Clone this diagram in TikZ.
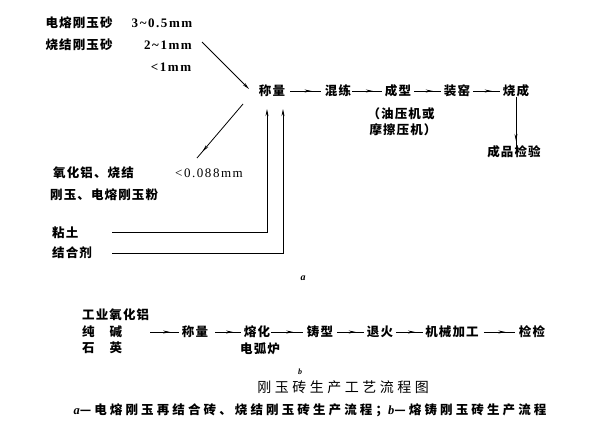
\documentclass[tikz,border=0pt]{standalone}
\usepackage{fontspec}
\usetikzlibrary{arrows.meta,decorations.markings}
\setmainfont{Noto Sans CJK SC}
\newfontfamily\cjkfont{Noto Sans CJK SC}
\newfontfamily\latfont{Liberation Serif}
\begin{document}
\begin{tikzpicture}[x=1pt,y=-1pt,
  every node/.style={inner sep=1pt},
  lbl/.style={font=\fontsize{12.5}{15}\selectfont\cjkfont\bfseries\addfontfeature{LetterSpace=9}},
  num/.style={font=\fontsize{13}{15}\selectfont\latfont\bfseries\addfontfeature{LetterSpace=12}},
  numr/.style={font=\fontsize{13}{15}\selectfont\latfont\addfontfeature{LetterSpace=12}},
  conn/.style={line width=0.8pt},
  flow/.style={conn, postaction={decorate},
    decoration={markings, mark=at position #1 with {\arrow{Stealth[length=7pt,width=3pt]}}}},
  flow/.default=0.7,
  endarrow/.style={conn, -{Stealth[length=7pt,width=3pt]}},
  revflow/.style={conn, postaction={decorate},
    decoration={markings, mark=at position #1 with {\arrowreversed{Stealth[length=7pt,width=3pt]}}}},
]
\useasboundingbox (0,0) rectangle (609,434);

% ---------- part a ----------
\node[lbl] (m1) at (79,23) {电熔刚玉砂};
\node[num] (s1) at (162,23) {3\textasciitilde0.5mm};
\node[lbl] (m2) at (79,45) {烧结刚玉砂};
\node[num] (s2) at (168,45) {2\textasciitilde1mm};
\node[num] (s3) at (171,67) {<1mm};

\node[lbl] (weigh) at (272,91) {称量};
\node[lbl] (mix)   at (338,91) {混练};
\node[lbl] (form)  at (398,91) {成型};
\node[lbl,align=center] (press) at (401,122) {（油压机或\\[1pt]\ 摩擦压机）};
\node[lbl] (kiln)  at (457,91) {装窑};
\node[lbl] (fire)  at (516,91) {烧成};
\node[lbl] (insp)  at (514,152) {成品检验};

\node[lbl,anchor=west] (f1) at (52,173) {氧化铝、烧结};
\node[lbl,anchor=west] (f2) at (49,195) {刚玉、电熔刚玉粉};
\node[numr] (s4) at (209,173) {<0.088mm};
\node[lbl,anchor=west] (clay) at (51,233) {粘土};
\node[lbl,anchor=west] (binder) at (51,253) {结合剂};
\node[font=\fontsize{10}{12}\selectfont\latfont\bfseries\itshape] (la) at (303,278) {a};

\coordinate (d1a) at (202,42);
\coordinate (d1b) at (249,89);
\coordinate (d2a) at (197,158);
\coordinate (d2b) at (243,104);
\coordinate (cl0) at (112,232);
\coordinate (cl1) at (267,109);
\coordinate (bd0) at (112,253);
\coordinate (bd1) at (283,109);

\draw[endarrow] (d1a) -- (d1b);
\draw[revflow=0.12] (d2a) -- (d2b);
\draw[endarrow] (cl0) -| (cl1);
\draw[endarrow] (bd0) -| (bd1);

\draw[flow] ([xshift=4pt]weigh.east) -- ([xshift=-3pt]mix.west);
\draw[flow] (mix.east) -- ([xshift=-2pt]form.west);
\draw[flow] ([xshift=2pt]form.east) -- ([xshift=-2pt]kiln.west);
\draw[flow] ([xshift=2pt]kiln.east) -- ([xshift=-2pt]fire.west);
\draw[flow=0.85] ([yshift=1pt]fire.south) -- ([yshift=-4pt]fire.south |- insp.north);

% ---------- part b ----------
\node[lbl,anchor=west] (r1) at (81,315) {工业氧化铝};
\node[lbl,anchor=west] (r2) at (81,332) {纯\hspace{1.2em}碱};
\node[lbl,anchor=west] (r3) at (81,348) {石\hspace{1.2em}英};
\node[lbl] (bw)    at (195,332) {称量};
\node[lbl] (melt)  at (257,332) {熔化};
\node[lbl] (arc)   at (260,349) {电弧炉};
\node[lbl] (cast)  at (320,332) {铸型};
\node[lbl] (ann)   at (380,332) {退火};
\node[lbl] (mach)  at (452,332) {机械加工};
\node[lbl] (chk)   at (532,332) {检检};

\coordinate (b0) at (150,332);
\draw[flow] (b0) -- ([xshift=-2pt]bw.west);
\draw[flow] ([xshift=6pt]bw.east) -- ([xshift=-2pt]melt.west);
\draw[flow] (melt.east) -- ([xshift=-3pt]cast.west);
\draw[flow] ([xshift=3pt]cast.east) -- ([xshift=-2pt]ann.west);
\draw[flow] ([xshift=2pt]ann.east) -- ([xshift=-1pt]mach.west);
\draw[flow] ([xshift=4pt]mach.east) -- ([xshift=-3pt]chk.west);

\node[font=\fontsize{8}{9}\selectfont\latfont\bfseries\itshape, inner sep=0pt] (lb) at (300,371.5) {b};
\node[font=\fontsize{14}{16}\selectfont\cjkfont\addfontfeature{LetterSpace=25}, inner sep=0pt] (title) at (343,387) {刚玉砖生产工艺流程图};
\node[font=\fontsize{12.5}{15}\selectfont\cjkfont\bfseries\addfontfeature{LetterSpace=25}] (cap) at (310,410)
  {{\latfont\itshape a}—电熔刚玉再结合砖、烧结刚玉砖生产流程；{\latfont\itshape b}—熔铸刚玉砖生产流程};
\end{tikzpicture}
\end{document}
